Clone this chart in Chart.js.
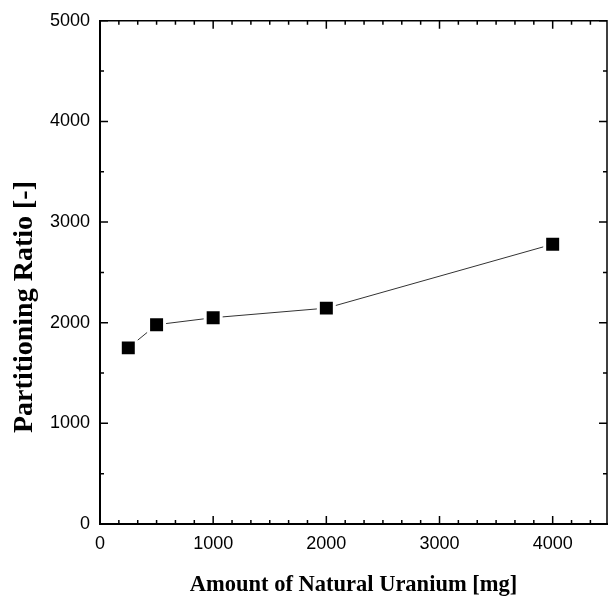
<!DOCTYPE html>
<html>
<head>
<meta charset="utf-8">
<script src="https://cdn.jsdelivr.net/npm/chart.js@4.4.0/dist/chart.umd.min.js"></script>
<style>
html, body { margin: 0; padding: 0; background: #fff; }
</style>
</head>
<body>
<canvas id="grafico" width="608" height="603"></canvas>
<script>
// datos
var uranio = [250, 500, 1000, 2000, 4000];      // mg
var ratio = [1750, 1980, 2050, 2145, 2780];     // partitioning ratio
var xTicks = [0, 1000, 2000, 3000, 4000];
var yTicks = [0, 1000, 2000, 3000, 4000, 5000];
var xMax = 4480;
var yMax = 5000;

var puntos = uranio.map(function (u, i) { return { x: u, y: ratio[i] }; });

var marco = { // dibuja el marco y las marcas hacia adentro
    id: 'marco',
    afterDraw: function (chart) {
        var ctx = chart.ctx;
        var a = chart.chartArea;
        var sx = chart.scales.x;
        var sy = chart.scales.y;
        ctx.save();
        ctx.strokeStyle = '#000';
        ctx.lineWidth = 1.5;
        ctx.beginPath();
        ctx.moveTo(a.left, a.top);
        ctx.lineTo(a.right, a.top);
        ctx.lineTo(a.right, a.bottom);
        ctx.stroke();

        ctx.beginPath();
        var v, px, largo;
        for (var i = 0; i * 1000 / 6 <= xMax; i++) { // marcas x
            v = i * 1000 / 6;
            px = sx.getPixelForValue(v);
            largo = (i % 6 == 0) ? 8 : 4;
            ctx.moveTo(px, a.bottom);
            ctx.lineTo(px, a.bottom - largo);
            ctx.moveTo(px, a.top);
            ctx.lineTo(px, a.top + largo);
        }
        for (var j = 0; j * 500 <= yMax; j++) { // marcas y
            v = j * 500;
            px = sy.getPixelForValue(v);
            largo = (j % 2 == 0) ? 8 : 4;
            ctx.moveTo(a.left, px);
            ctx.lineTo(a.left + largo, px);
            ctx.moveTo(a.right, px);
            ctx.lineTo(a.right - largo, px);
        }
        ctx.stroke();

        // titulo del eje y
        ctx.translate(25, 307);
        ctx.rotate(-Math.PI / 2);
        ctx.fillStyle = '#000';
        ctx.font = 'bold 28px "Liberation Serif"';
        ctx.textAlign = 'center';
        ctx.textBaseline = 'middle';
        ctx.fillText('Partitioning Ratio [-]', 0, 0);
        ctx.restore();
    }
};

function sinComa(v) { return String(v); } // etiquetas sin separador de miles

var grafico = new Chart(document.getElementById('grafico'), {
    type: 'line',
    data: {
        datasets: [{
            label: 'Partitioning Ratio',
            data: puntos,
            borderColor: '#333',
            borderWidth: 1,
            pointStyle: 'rect',
            pointRadius: 11.3,
            pointBackgroundColor: '#000',
            pointBorderColor: '#fff',
            pointBorderWidth: 3,
            tension: 0
        }]
    },
    options: {
        responsive: false,
        animation: false,
        layout: { autoPadding: false, padding: { top: 18, right: 1, left: 0, bottom: 0 } },
        plugins: {
            legend: { display: false },
            tooltip: { enabled: false }
        },
        scales: {
            x: {
                type: 'linear',
                min: 0,
                max: xMax,
                afterBuildTicks: function (s) { s.ticks = xTicks.map(function (v) { return { value: v }; }); },
                afterFit: function (s) { s.height = 79; s.paddingRight = 0; s.paddingLeft = 0; },
                grid: { display: false, drawTicks: false },
                border: { display: true, color: '#000', width: 2 },
                ticks: { color: '#000', padding: 9, callback: sinComa, font: { family: 'Liberation Sans', size: 18 } },
                title: {
                    display: true,
                    text: 'Amount of Natural Uranium [mg]',
                    color: '#000',
                    padding: { top: 0, bottom: 4 },
                    font: { family: 'Liberation Serif', size: 22.5, weight: 'bold' }
                }
            },
            y: {
                type: 'linear',
                min: 0,
                max: yMax,
                afterBuildTicks: function (s) { s.ticks = yTicks.map(function (v) { return { value: v }; }); },
                afterFit: function (s) { s.width = 100; },
                grid: { display: false, drawTicks: false },
                border: { display: true, color: '#000', width: 2 },
                ticks: { color: '#000', padding: 10, callback: sinComa, font: { family: 'Liberation Sans', size: 18 } }
            }
        }
    },
    plugins: [marco]
});
</script>
</body>
</html>
